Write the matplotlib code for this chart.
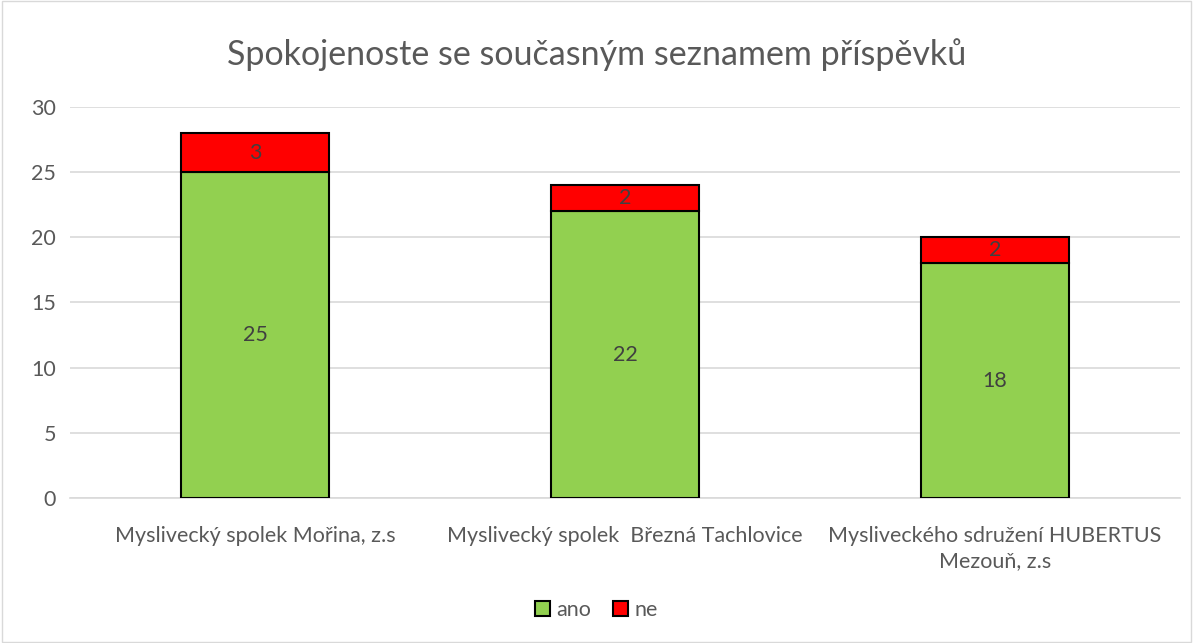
import matplotlib.pyplot as plt
from matplotlib.patches import Rectangle

# data
categories = ['Myslivecký spolek Mořina, z.s',
              'Myslivecký spolek  Březná Tachlovice',
              'Mysliveckého sdružení HUBERTUS\nMezouň, z.s']
ano = [25, 22, 18]
ne = [3, 2, 2]

plt.rcParams['font.family'] = ['Lato', 'DejaVu Sans']

fig = plt.figure(figsize=(11.93, 6.43), dpi=100)
ax = fig.add_axes([0.0587, 0.2255, 0.9303, 0.6081])

x = range(len(categories))
w = 0.40
ax.bar(x, ano, width=w, color='#92d050', edgecolor='black', linewidth=1.5, label='ano', zorder=3)
ax.bar(x, ne, width=w, bottom=ano, color='#ff0000', edgecolor='black', linewidth=1.5, label='ne', zorder=3)

for i in x:
    ax.text(i, ano[i] / 2, str(ano[i]), ha='center', va='center', fontsize=15.5, color='#404040', zorder=4)
    ax.text(i, ano[i] + ne[i] / 2, str(ne[i]), ha='center', va='center', fontsize=15.5, color='#404040', zorder=4)

ax.set_xlim(-0.5, 2.5)
ax.set_ylim(0, 30)
ax.set_yticks(range(0, 31, 5))
ax.grid(axis='y', color='#d9d9d9', linewidth=1.2, zorder=0)
for s in ['top', 'right', 'left']:
    ax.spines[s].set_visible(False)
ax.spines['bottom'].set_color('#d9d9d9')
ax.spines['bottom'].set_linewidth(1.2)
ax.tick_params(length=0, labelsize=15.5, colors='#595959', pad=10)
ax.set_xticks(list(x))
ax.set_xticklabels(categories, fontsize=15.5, color='#595959', linespacing=1.35)
ax.tick_params(axis='x', pad=20)

fig.text(0.5, 0.915, 'Spokojenoste se současným seznamem příspěvků', ha='center', va='center',
         fontsize=24.5, color='#595959')

fig.legend(loc='center', bbox_to_anchor=(0.5, 0.051), ncol=2, frameon=False, fontsize=15.5,
           handlelength=0.7, handleheight=0.7, handletextpad=0.3, columnspacing=1.0,
           labelcolor='#595959')

fig.patches.append(Rectangle((0.002, 0.002), 0.996, 0.996, transform=fig.transFigure,
                             fill=False, edgecolor='#d9d9d9', linewidth=1))

fig.savefig('out.png', dpi=100)
